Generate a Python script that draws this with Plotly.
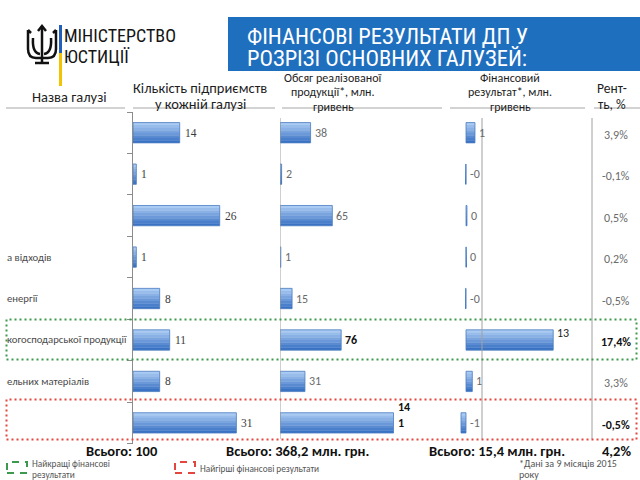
import plotly.graph_objects as go

W, H = 640, 480


def px(x):
    return x / W


def py(y):
    return 1 - y / H


# ---------------- data ----------------
categories = ["", "", "", "а відходів", "енергії", "когосподарської продукції", "ельних матеріалів", ""]
enterprises = [14, 1, 26, 1, 8, 11, 8, 31]
enterprise_labels = ["14", "1", "26", "1", "8", "11", "8", "31"]
sales = [38, 2, 65, 1, 15, 76, 31, 141]
sales_labels = ["38", "2", "65", "1", "15", "76", "31", "14<br>1"]
fin_result = [1.38, -0.02, 0.15, 0.01, -0.05, 13.4, 0.97, -0.77]
fin_labels = ["1", "-0", "0", "0", "-0", "13", "1", "-1"]
profitability = ["3,9%", "-0,1%", "0,5%", "0,2%", "-0,5%", "17,4%", "3,3%", "-0,5%"]
totals = ["Всього: 100", "Всього: 368,2 млн. грн.", "Всього: 15,4 млн. грн.", "4,2%"]
headers = [
    ["Назва галузі"],
    ["Кількість підприємств", "у кожній галузі"],
    ["Обсяг реалізованої", "продукції*, млн.", "гривень"],
    ["Фінансовий", "результат*, млн.", "гривень"],
    ["Рент-", "ть, %"],
]
title_lines = ["ФІНАНСОВІ РЕЗУЛЬТАТИ ДП У", "РОЗРІЗІ ОСНОВНИХ ГАЛУЗЕЙ:"]
logo_lines = ["МІНІСТЕРСТВО", "ЮСТИЦІЇ"]
best_row = 5
worst_row = 7

rows = list(range(len(enterprises)))

SANS = "Carlito, Roboto, Liberation Sans, sans-serif"
SERIF = "Liberation Serif, DejaVu Serif, serif"
NARROW = "Liberation Sans Narrow, Roboto Condensed, Liberation Sans, sans-serif"

fig = go.Figure()

# ---------------- gradient bars ----------------
BAR_W = 0.49
N_STRIPES = 8
top_c = (0xA9, 0xCA, 0xF2)
bot_c = (0x3A, 0x72, 0xC4)


def mix(t):
    return "rgb(%d,%d,%d)" % tuple(round(a + (b - a) * t) for a, b in zip(top_c, bot_c))


panels = [(enterprises, "x"), (sales, "x2"), (fin_result, "x3")]
for vals, xa in panels:
    sw = BAR_W / N_STRIPES
    for k in range(N_STRIPES):
        w = sw + (0.006 if k < N_STRIPES - 1 else 0)
        fig.add_trace(go.Bar(
            x=vals, y=rows, orientation="h", xaxis=xa, yaxis="y",
            width=w, offset=-BAR_W / 2 + k * sw,
            marker=dict(color=mix(k / (N_STRIPES - 1)), line=dict(width=0)),
            hoverinfo="skip", showlegend=False,
        ))
    fig.add_trace(go.Bar(
        x=vals, y=rows, orientation="h", xaxis=xa, yaxis="y",
        width=BAR_W, offset=-BAR_W / 2,
        marker=dict(color="rgba(0,0,0,0)", line=dict(width=0.8, color="#4A7CC0")),
        hoverinfo="skip", showlegend=False,
    ))

annotations = []


def note(x, y, text, size, color, family=SANS, xref="paper", yref="paper", xanchor="center", **kw):
    d = dict(x=x, y=y, xref=xref, yref=yref, text=text, showarrow=False,
             xanchor=xanchor, yanchor="middle", borderpad=0,
             font=dict(family=family, size=size, color=color))
    d.update(kw)
    annotations.append(d)


# value labels
for i, (v, t) in enumerate(zip(enterprises, enterprise_labels)):
    note(v, i, t, 11.5, "#3A3A3A", family=SERIF, xref="x", yref="y", xanchor="left", xshift=4)
for i, (v, t) in enumerate(zip(sales, sales_labels)):
    hl = i in (best_row, worst_row)
    note(v, i, ("<b>%s</b>" % t) if hl else t, 12, "#111111" if hl else "#6A6A6A",
         xref="x2", yref="y", xanchor="left", xshift=3, align="left",
         yshift=8 if "<br>" in t else 0)
for i, (v, t) in enumerate(zip(fin_result, fin_labels)):
    hl = i == best_row
    note(max(v, 0), i, t, 12, "#222222" if hl else "#6A6A6A",
         xref="x3", yref="y", xanchor="left", xshift=3, yshift=7 if hl else 0)
for i, t in enumerate(profitability):
    hl = i in (best_row, worst_row)
    note(px(616), i, ("<b>%s</b>" % t) if hl else t, 12, "#111111" if hl else "#6A6A6A",
         yref="y", yshift=-2)
# category names (clipped in the original)
for i, name in enumerate(categories):
    if name:
        note(px(6), i, name, 10.7, "#4A4A4A", yref="y", xanchor="left")

# totals
for xc, t in zip([122, 298, 497, 616], totals):
    note(px(xc), py(451), "<b>%s</b>" % t, 14.5, "#111111")

# headers
header_pos = [
    (69, [97], 14.5),
    (200, [88, 104], 14.5),
    (333, [78, 92, 107], 12),
    (510, [78, 92, 107], 12),
    (612, [88, 104], 13.5),
]
for (xc, ys, fs), lines in zip(header_pos, headers):
    for yy, line in zip(ys, lines):
        note(px(xc), py(yy), line, fs, "#1E1E1E")

# title
for yy, line in zip([36, 58], title_lines):
    note(px(246), py(yy), line, 22.5, "white", family=NARROW, xanchor="left")
# logo text
for yy, line in zip([36, 56], logo_lines):
    note(px(63), py(yy), line, 18, "#151515", family=NARROW, xanchor="left")

# legend + footnote
note(px(31), py(463), "Найкращі фінансові", 9.3, "#555555", xanchor="left")
note(px(31), py(474), "результати", 9.3, "#555555", xanchor="left")
note(px(199), py(468), "Найгірші фінансові результати", 9.3, "#555555", xanchor="left")
note(px(518), py(463), "*Дані за 9 місяців 2015", 10, "#555555", xanchor="left")
note(px(518), py(474), "року", 10, "#555555", xanchor="left")

# ---------------- shapes ----------------
shapes = []


def pline(x0, y0, x1, y1, color, width, dash=None):
    d = dict(type="line", xref="paper", yref="paper", x0=px(x0), y0=py(y0), x1=px(x1), y1=py(y1),
             line=dict(color=color, width=width))
    if dash:
        d["line"]["dash"] = dash
    return d


# title banner
shapes.append(dict(type="rect", xref="paper", yref="paper", x0=px(228), x1=px(640),
                   y0=py(71), y1=py(17), fillcolor="#1F6FBF", line=dict(width=0), layer="below"))
# logo bar
shapes.append(pline(60.5, 25, 60.5, 53, "#2060B8", 3))
shapes.append(pline(60.5, 53, 60.5, 86, "#F2C300", 3))


# trident
def ppath(pts):
    out = []
    for cmd in pts:
        if isinstance(cmd, str):
            out.append(cmd)
        else:
            out.append("%f,%f" % (px(cmd[0]), py(cmd[1])))
    return " ".join(out)


trident_paths = [
    ["M", (28, 30), "L", (28, 49), "Q", (28, 58), (36, 58), "L", (48, 58), "Q", (56, 58), (56, 49), "L", (56, 30)],
    ["M", (42, 26), "L", (42, 64)],
    ["M", (33, 38), "Q", (32, 53), (40, 54)],
    ["M", (51, 38), "Q", (52, 53), (44, 54)],
    ["M", (35, 63), "L", (49, 63)],
    ["M", (38, 31), "L", (42, 26), "L", (46, 31)],
    ["M", (28, 30), "L", (31, 33)],
    ["M", (56, 30), "L", (53, 33)],
]
for p in trident_paths:
    shapes.append(dict(type="path", xref="paper", yref="paper", path=ppath(p),
                       line=dict(color="#111111", width=2.5)))

# header underlines
for x0, x1 in [(6, 125), (133, 275), (282, 442), (450, 585), (594, 640)]:
    shapes.append(pline(x0, 108, x1, 108, "#A6A6A6", 1))

# panel separator lines
shapes.append(dict(type="line", xref="x2", yref="paper", x0=0, x1=0, y0=py(439), y1=py(118),
                   line=dict(color="#A0A0A0", width=1)))
shapes.append(pline(482, 118, 482, 439, "#A0A0A0", 1))
shapes.append(pline(592, 118, 592, 439, "#A0A0A0", 1))

# highlight boxes
shapes.append(dict(type="rect", xref="paper", yref="paper", x0=px(6.5), x1=px(636.5),
                   y0=py(359.5), y1=py(319.5),
                   line=dict(color="#3C9A4E", width=2, dash="2px,3px")))
shapes.append(dict(type="rect", xref="paper", yref="paper", x0=px(6.5), x1=px(636.5),
                   y0=py(439.5), y1=py(399.5),
                   line=dict(color="#E2463E", width=2, dash="2px,3px")))

# legend icons
shapes.append(dict(type="rect", xref="paper", yref="paper", x0=px(7), x1=px(27),
                   y0=py(473), y1=py(462), line=dict(color="#3C9A4E", width=2, dash="7px,6px")))
shapes.append(dict(type="rect", xref="paper", yref="paper", x0=px(175), x1=px(195),
                   y0=py(473), y1=py(462), line=dict(color="#E2463E", width=2, dash="7px,6px")))

# ---------------- layout ----------------
y_top, y_bot = 112, 443.6
fig.update_layout(
    width=W, height=H,
    margin=dict(l=0, r=0, t=0, b=0),
    paper_bgcolor="white", plot_bgcolor="rgba(0,0,0,0)",
    barmode="overlay", showlegend=False,
    xaxis=dict(domain=[px(133), px(272)], range=[0, (272 - 133) / 3.335], visible=False,
               fixedrange=True),
    xaxis2=dict(domain=[px(280), px(460)], range=[0, 180 / 0.805], visible=False,
                anchor="y", fixedrange=True),
    xaxis3=dict(domain=[px(440), px(592)], range=[(440 - 466) / 6.51, (592 - 466) / 6.51],
                visible=False, anchor="y", fixedrange=True),
    yaxis=dict(domain=[py(y_bot), py(y_top)], range=[len(rows) - 0.5, -0.5], anchor="x",
               showline=True, linecolor="#8C8C8C", linewidth=1,
               ticks="outside", ticklen=5, tickcolor="#8C8C8C",
               tickvals=[i + 0.5 for i in range(-1, len(rows))],
               showticklabels=False, showgrid=False, zeroline=False, fixedrange=True),
    annotations=annotations,
    shapes=shapes,
)

fig.write_html("out.html", config={"displayModeBar": False},
               post_script="document.body.style.margin='0';document.body.style.padding='0';")
